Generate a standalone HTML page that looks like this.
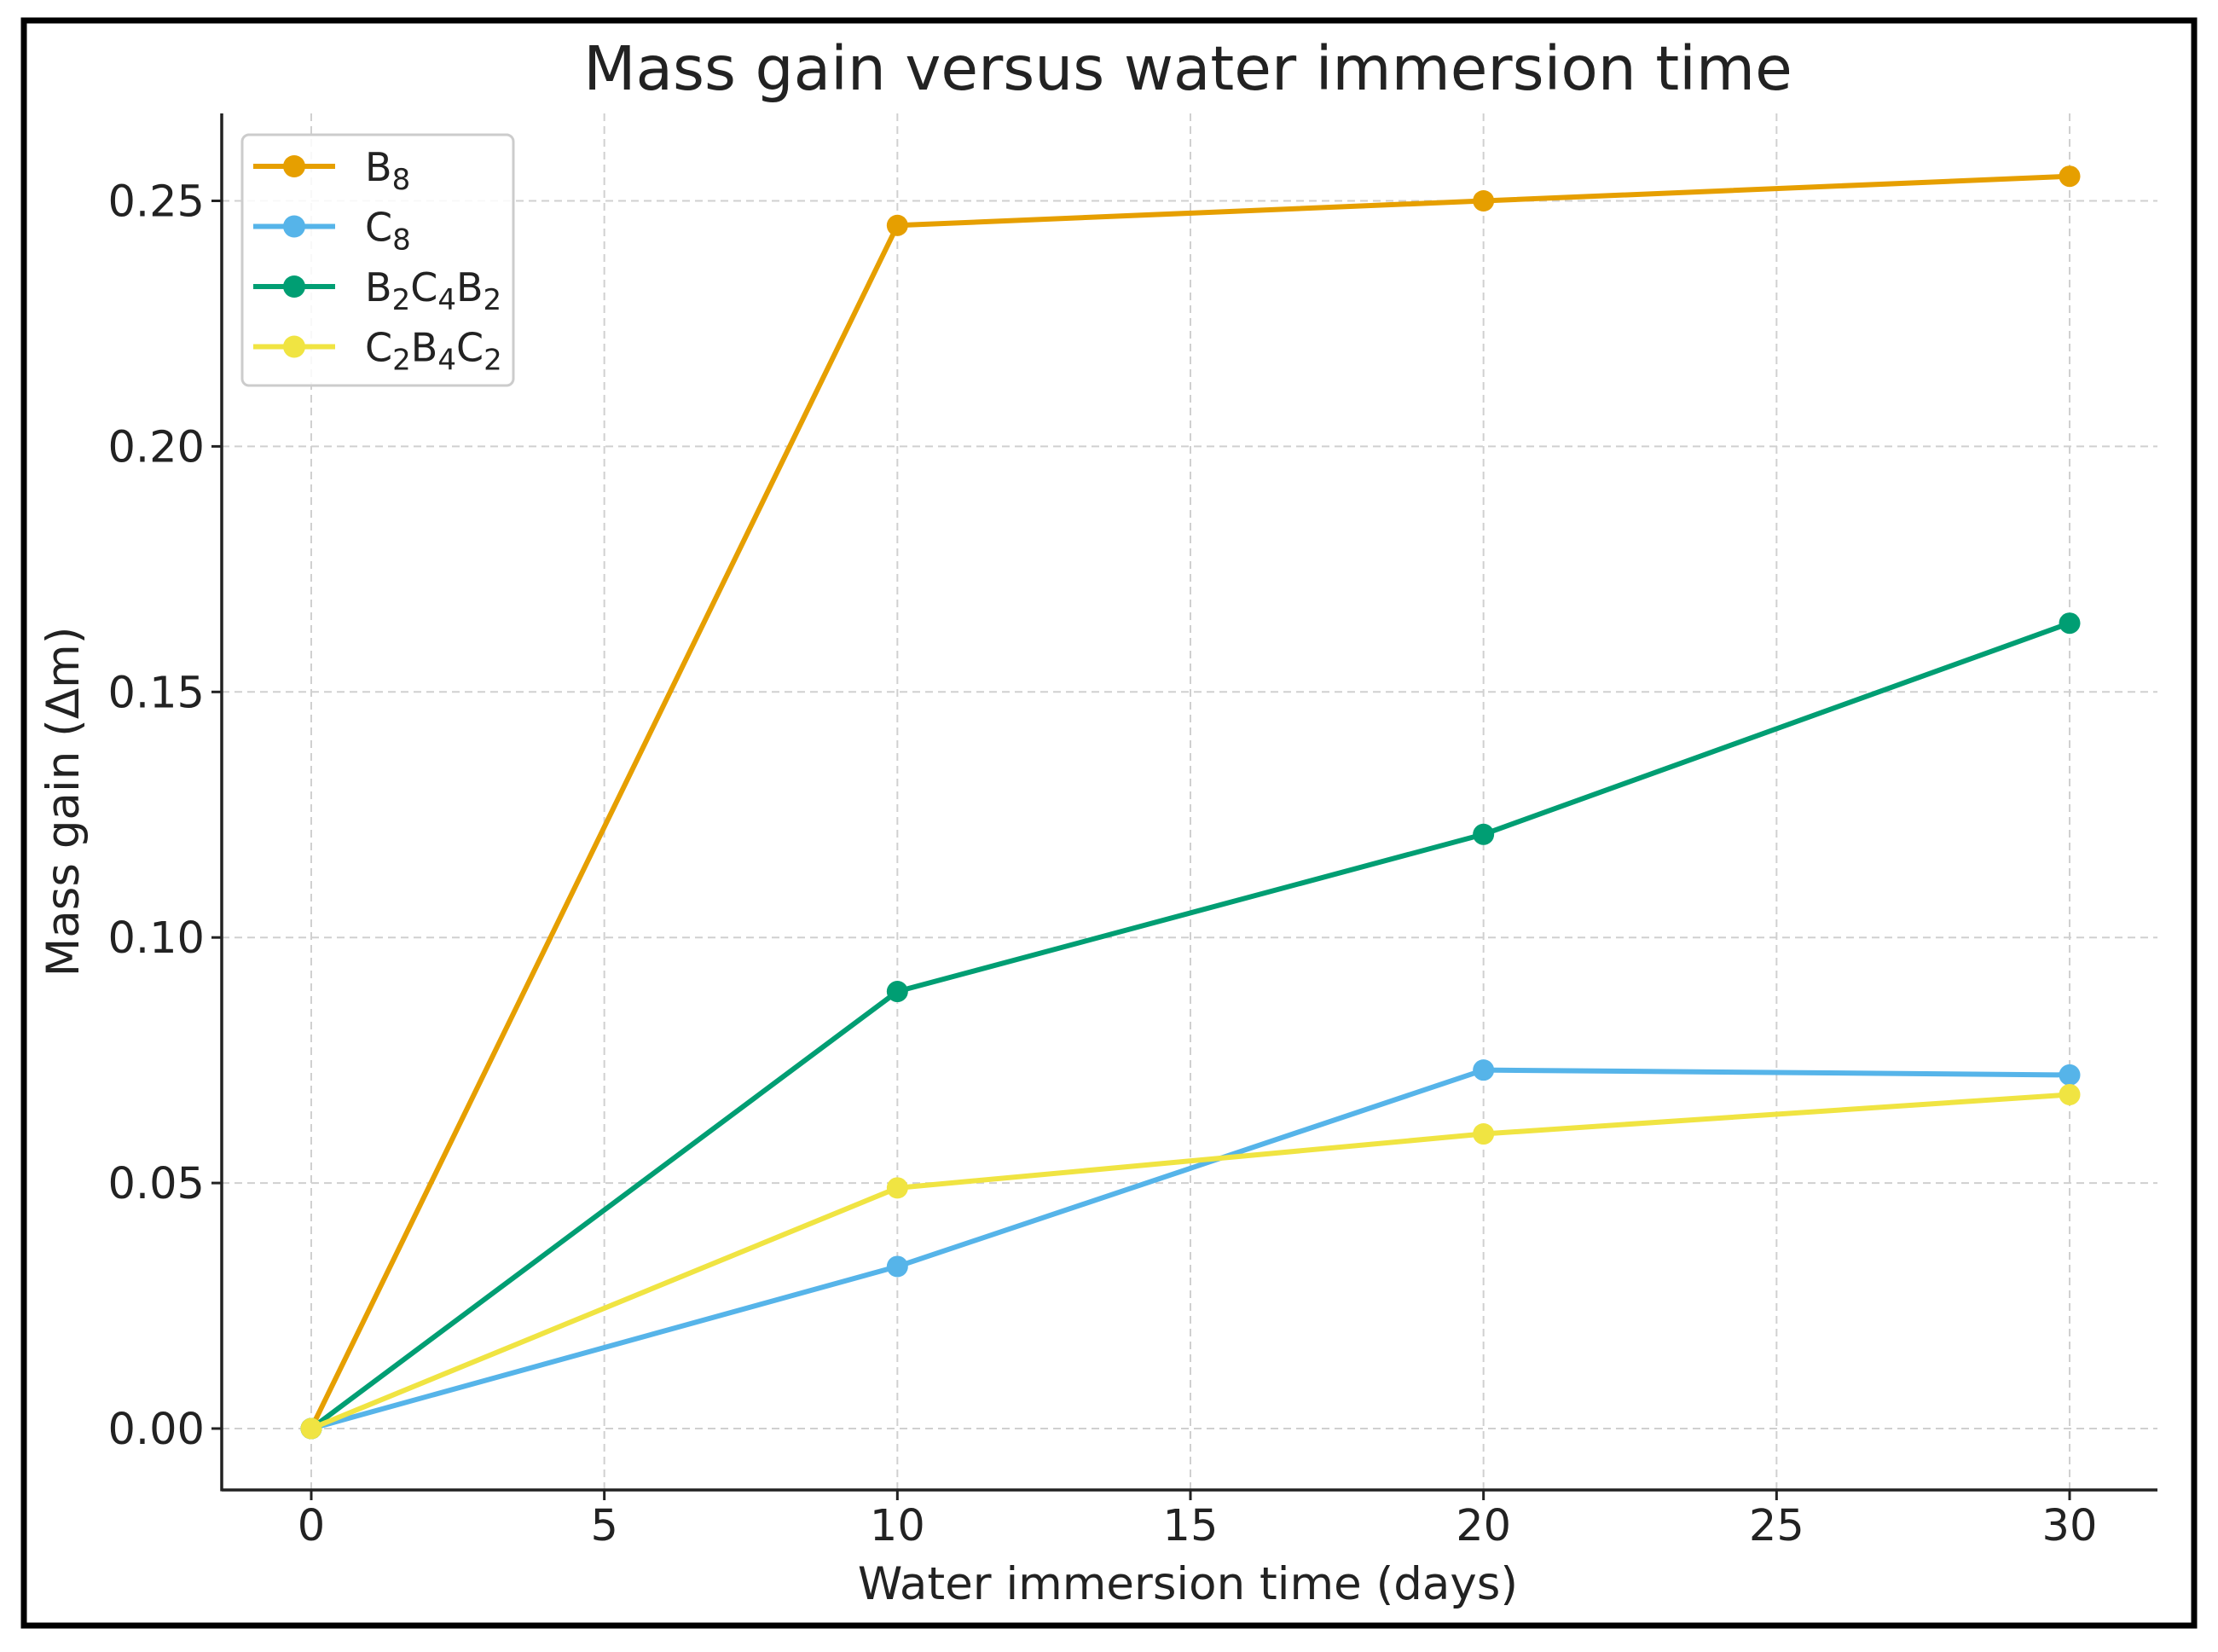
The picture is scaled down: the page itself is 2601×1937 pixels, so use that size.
<!DOCTYPE html>
<html><head><meta charset="utf-8"><style>
html,body{margin:0;padding:0;background:#fff}
svg{display:block}
text{font-family:"DejaVu Sans","Liberation Sans",sans-serif;fill:#222}
</style></head><body>
<svg id="chart" width="2601" height="1937" xmlns="http://www.w3.org/2000/svg">
<rect x="28" y="24" width="2545" height="1882" fill="#fff" stroke="#000" stroke-width="7"/>
<g id="grid"></g>
<g id="axes"></g>
<g id="series"></g>
<text x="1393" y="105" font-size="71" text-anchor="middle">Mass gain versus water immersion time</text>
<text x="1393" y="1875" font-size="53" text-anchor="middle">Water immersion time (days)</text>
<text transform="translate(92,940) rotate(-90)" font-size="53" text-anchor="middle">Mass gain (Δm)</text>
<g>
<rect x="284" y="158" width="318" height="294" rx="8" fill="#fff" fill-opacity="0.85" stroke="#ccc" stroke-width="3"/>
<g id="legend-items"></g>
</g>
</svg>
<script>
const days=[0,10,20,30];
const b8=[0,0.245,0.25,0.255];
const c8=[0,0.033,0.073,0.072];
const b2c4b2=[0,0.089,0.121,0.164];
const c2b4c2=[0,0.049,0.060,0.068];
const xTicks=[0,5,10,15,20,25,30];
const yTicks=[0,0.05,0.10,0.15,0.20,0.25];
const NS="http://www.w3.org/2000/svg";
function X(v){return 365+(v-0)*(2427-365)/30;}
function Y(v){return 1675-(v)*(1675-235.5)/0.25;}
function mk(tag,attrs,parent){const e=document.createElementNS(NS,tag);for(const k in attrs)e.setAttribute(k,attrs[k]);parent.appendChild(e);return e;}
const grid=document.getElementById('grid'),axes=document.getElementById('axes'),ser=document.getElementById('series');
const L=260,R=2530,T=133,B=1747;
xTicks.forEach(t=>{
  const g=mk('line',{x1:X(t),x2:X(t),y1:T,y2:B,stroke:'#d0d0d0','stroke-width':2,'stroke-dasharray':'9 6'},grid);
  
  const tk=mk('line',{x1:X(t),x2:X(t),y1:B,y2:B+12,stroke:'#222','stroke-width':3},axes);
  
  const tx=mk('text',{x:X(t),y:1806,'font-size':51,'text-anchor':'middle'},axes);tx.textContent=t;
  
});
yTicks.forEach(t=>{
  const g=mk('line',{x1:L,x2:R,y1:Y(t),y2:Y(t),stroke:'#d0d0d0','stroke-width':2,'stroke-dasharray':'9 6'},grid);
  
  const tk=mk('line',{x1:L-12,x2:L,y1:Y(t),y2:Y(t),stroke:'#222','stroke-width':3},axes);
  
  const tx=mk('text',{x:240,y:Y(t)+18,'font-size':51,'text-anchor':'end'},axes);tx.textContent=t.toFixed(2);
  
});
const ls=mk('line',{x1:L,x2:L,y1:T,y2:B+1.5,stroke:'#222','stroke-width':3.5},axes);

const bs=mk('line',{x1:L,x2:R,y1:B,y2:B,stroke:'#222','stroke-width':3.5},axes);

const S=[
 {n:'b8',v:b8,c:'#E69F00',lab:'B<tspan font-size="34" dy="10">8</tspan>'},
 {n:'c8',v:c8,c:'#56B4E9',lab:'C<tspan font-size="34" dy="10">8</tspan>'},
 {n:'b2c4b2',v:b2c4b2,c:'#009E73',lab:'B<tspan font-size="34" dy="10">2</tspan><tspan dy="-10">C</tspan><tspan font-size="34" dy="10">4</tspan><tspan dy="-10">B</tspan><tspan font-size="34" dy="10">2</tspan>'},
 {n:'c2b4c2',v:c2b4c2,c:'#F0E442',lab:'C<tspan font-size="34" dy="10">2</tspan><tspan dy="-10">B</tspan><tspan font-size="34" dy="10">4</tspan><tspan dy="-10">C</tspan><tspan font-size="34" dy="10">2</tspan>'}
];
S.forEach(s=>{
  const p=mk('polyline',{points:days.map((d,i)=>X(d)+','+Y(s.v[i])).join(' '),fill:'none',stroke:s.c,'stroke-width':6,'stroke-linejoin':'round'},ser);
  
  days.forEach((d,i)=>{
    const c=mk('circle',{cx:X(d),cy:Y(s.v[i]),r:12.5,fill:s.c},ser);
    
  });
});
const li=document.getElementById('legend-items');
S.forEach((s,i)=>{
  const y=195+i*70.5;
  const g=mk('g',{},li);
  
  mk('line',{x1:297,x2:393,y1:y,y2:y,stroke:s.c,'stroke-width':6},g);
  mk('circle',{cx:345,cy:y,r:13,fill:s.c},g);
  const t=mk('text',{x:428,y:y+17,'font-size':46},g);t.innerHTML=s.lab;
});
</script>
</body></html>
